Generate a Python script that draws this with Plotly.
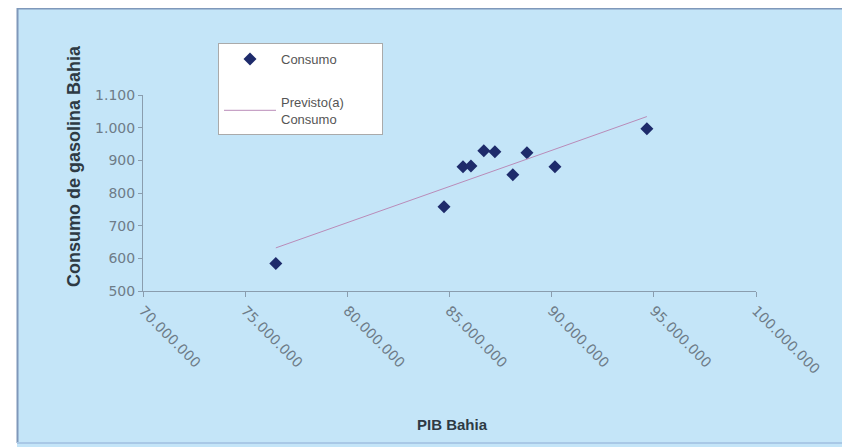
import plotly.graph_objects as go

# PIB Bahia e consumo de gasolina
pib = [76_500_000, 84_730_000, 85_660_000, 86_050_000, 86_680_000,
       87_220_000, 88_100_000, 88_790_000, 90_160_000, 94_660_000]
consumo = [584, 758, 880, 883, 929, 926, 856, 923, 880, 997]
previsto = [632, 813, 834, 843, 857, 869, 888, 903, 934, 1034]

x_ticks = [70_000_000, 75_000_000, 80_000_000, 85_000_000,
           90_000_000, 95_000_000, 100_000_000]
y_ticks = [500, 600, 700, 800, 900, 1000, 1100]

bg = "#C4E5F8"
axis_col = "#8A9DAE"
tick_col = "#6E7C88"

# the page body adds 8px, so the figure is laid out 8px up/left of the reference
L, R, T, B = 135, 748, 87, 283
W, H = 850, 447
pw, ph = R - L, B - T


def px_x(v):
    return (v - L) / pw


def px_y(v):
    return (B - v) / ph


fig = go.Figure()
fig.add_trace(go.Scatter(
    x=pib, y=consumo, mode="markers", legendgroup="a",
    name="Consumo" + "\u00a0" * 11,
    marker=dict(symbol="diamond", size=10, color="#1E2B6B"),
))
fig.add_trace(go.Scatter(
    x=pib, y=previsto, mode="lines", name="Previsto(a)<br>Consumo",
    legendgroup="b", line=dict(color="#B98BB8", width=1),
))

border = "#7F98BA"
fig.update_layout(
    width=W, height=H,
    margin=dict(l=L, r=W - R, t=T, b=H - B),
    paper_bgcolor=bg, plot_bgcolor=bg,
    separators=",.",
    font=dict(family="DejaVu Sans, Arial", size=14, color=tick_col),
    legend=dict(
        x=px_x(210), y=px_y(35), xanchor="left", yanchor="top",
        bgcolor="white", bordercolor="#AAAAAA", borderwidth=1,
        font=dict(family="Liberation Sans, Arial", size=13, color="#555555"),
        traceorder="grouped", tracegroupgap=23, itemwidth=52,
    ),
    shapes=[
        dict(type="rect", xref="paper", yref="paper", x0=px_x(-20), x1=px_x(9),
             y0=px_y(H + 20), y1=px_y(-20), fillcolor="white", line=dict(width=0),
             layer="below"),
        dict(type="line", xref="paper", yref="paper", x0=px_x(9.5), x1=px_x(9.5),
             y0=px_y(0), y1=px_y(435), line=dict(color=border, width=2)),
        dict(type="line", xref="paper", yref="paper", x0=px_x(9), x1=px_x(W + 10),
             y0=px_y(0.5), y1=px_y(0.5), line=dict(color=border, width=2)),
        dict(type="line", xref="paper", yref="paper", x0=px_x(9), x1=px_x(W + 10),
             y0=px_y(435), y1=px_y(435), line=dict(color="#A9C8E6", width=2)),
    ],
    annotations=[
        dict(text="<b>PIB Bahia</b>", xref="paper", yref="paper",
             x=px_x(444), y=px_y(427), showarrow=False,
             font=dict(family="Liberation Sans, Arial", size=15, color="#2E3A44")),
        dict(text="<b>Consumo de gasolina Bahia</b>", xref="paper", yref="paper",
             x=px_x(54), y=px_y(158), showarrow=False, textangle=-90,
             font=dict(family="Liberation Sans, Arial", size=18, color="#2E3A44")),
    ],
)
fig.update_xaxes(
    range=[70_000_000, 100_000_000], tickvals=x_ticks, tickformat=",d",
    tickangle=45, showgrid=False, zeroline=False,
    showline=True, linecolor=axis_col, linewidth=1,
    ticks="outside", ticklen=5, tickcolor=axis_col,
)
fig.update_yaxes(
    range=[500, 1100], tickvals=y_ticks, tickformat=",d",
    showgrid=False, zeroline=False,
    showline=True, linecolor=axis_col, linewidth=1,
    ticks="outside", ticklen=4, tickcolor=axis_col,
)

fig.write_html("out.html")
